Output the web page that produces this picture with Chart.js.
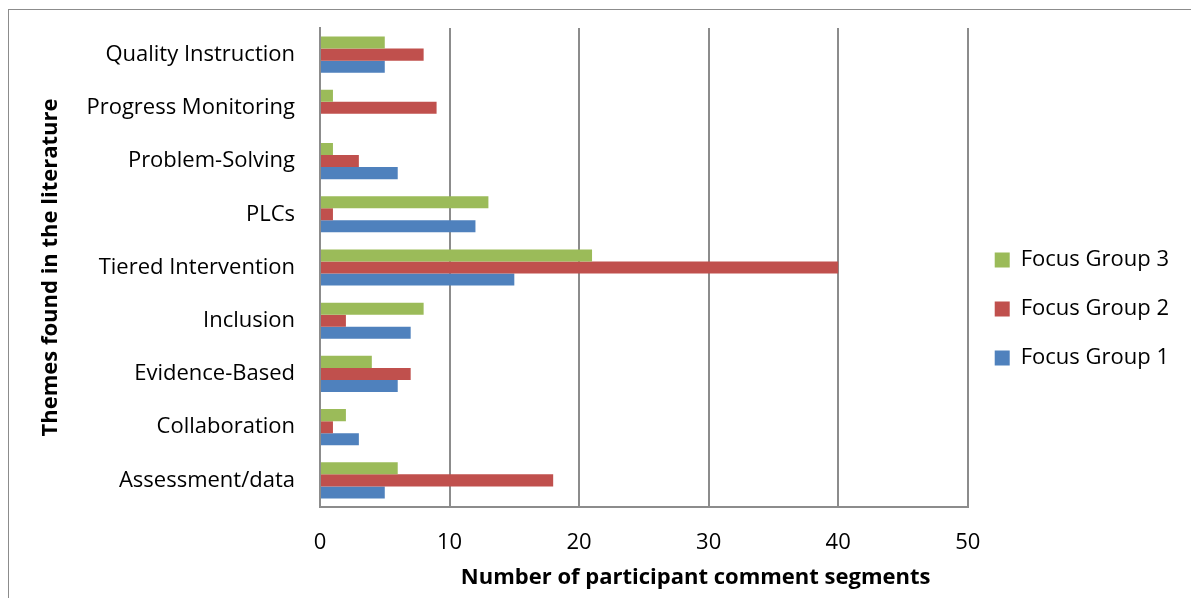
<!DOCTYPE html>
<html>
<head>
<meta charset="utf-8">
<script src="https://cdn.jsdelivr.net/npm/chart.js@4.4.0/dist/chart.umd.min.js"></script>
<style>
  html, body { margin: 0; padding: 0; background: #fff; }
  #wrap { width: 1191px; height: 598px; position: relative; }
</style>
</head>
<body>
<div id="wrap"><canvas id="chart" width="1191" height="598"></canvas></div>
<script>
// Chart data
const themes = ['Quality Instruction', 'Progress Monitoring', 'Problem-Solving', 'PLCs',
  'Tiered Intervention', 'Inclusion', 'Evidence-Based', 'Collaboration', 'Assessment/data'];
const group3 = [5, 1, 1, 13, 21, 8, 4, 2, 6];
const group2 = [8, 9, 3, 1, 40, 2, 7, 1, 18];
const group1 = [5, 0, 6, 12, 15, 7, 6, 3, 5];
const xTicks = [0, 10, 20, 30, 40, 50];
const xTitle = 'Number of participant comment segments';

const fontFamily = '"Open Sans", Lato, sans-serif';
const fontSize = 22;

// Outer frame, plus the x title which sits right of centre in the original
const framePlugin = {
  id: 'frame',
  beforeDraw(chart) {
    const ctx = chart.ctx;
    ctx.save();
    ctx.strokeStyle = '#8c8c8c';
    ctx.lineWidth = 1;
    ctx.strokeRect(8.5, 9.5, 1300, 700);
    ctx.restore();
  },
  afterDraw(chart) {
    const ctx = chart.ctx;
    const x = chart.scales.x;
    ctx.save();
    ctx.fillStyle = '#000';
    ctx.font = 'bold ' + fontSize + 'px ' + fontFamily;
    ctx.textAlign = 'center';
    ctx.textBaseline = 'middle';
    ctx.fillText(xTitle, x.left + x.width * 0.58, x.bottom - 12);
    ctx.restore();
  }
};

new Chart(document.getElementById('chart'), {
  type: 'bar',
  data: {
    labels: themes,
    datasets: [
      { label: 'Focus Group 3', data: group3, backgroundColor: '#9BBB59' },
      { label: 'Focus Group 2', data: group2, backgroundColor: '#C0504D' },
      { label: 'Focus Group 1', data: group1, backgroundColor: '#4F81BD' }
    ]
  },
  options: {
    indexAxis: 'y',
    responsive: false,
    animation: false,
    devicePixelRatio: 1,
    datasets: {
      bar: { categoryPercentage: 0.68, barPercentage: 1.0 }
    },
    layout: { padding: { left: 30, top: 28, right: 12, bottom: 8 } },
    plugins: {
      tooltip: { enabled: false },
      legend: {
        position: 'right',
        align: 'center',
        labels: {
          color: '#000',
          font: { family: fontFamily, size: fontSize },
          boxWidth: 15,
          boxHeight: 15,
          padding: 27
        }
      }
    },
    scales: {
      x: {
        min: 0,
        max: 50,
        afterBuildTicks(scale) {
          scale.ticks = xTicks.map(v => ({ value: v }));
        },
        afterFit(scale) { scale.height = 83; },
        grid: { color: '#8c8c8c', lineWidth: 2, drawTicks: false },
        border: { color: '#8c8c8c', width: 2 },
        ticks: { color: '#000', padding: 23, font: { family: fontFamily, size: fontSize } },
        title: { display: false }
      },
      y: {
        afterFit(scale) {
          scale.width = 290;
          // keep the label padding from pushing the plot area down
          scale.paddingTop = 0;
          scale.paddingBottom = 0;
        },
        grid: { display: false, drawTicks: false },
        border: { color: '#8c8c8c', width: 2 },
        ticks: { color: '#000', padding: 25, font: { family: fontFamily, size: fontSize } },
        title: {
          display: true,
          text: 'Themes found in the literature',
          color: '#000',
          font: { family: fontFamily, size: fontSize, weight: 'bold' },
          padding: { top: 8, bottom: 0 }
        }
      }
    }
  },
  plugins: [framePlugin]
});
</script>
</body>
</html>
